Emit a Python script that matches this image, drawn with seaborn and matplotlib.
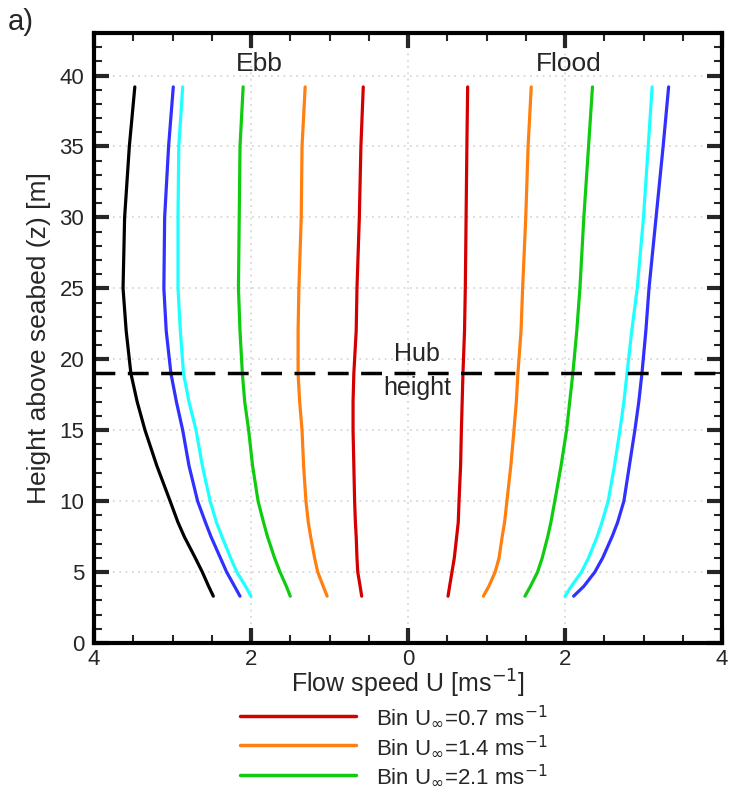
import numpy as np
import pandas as pd
import matplotlib
matplotlib.use("Agg")
import matplotlib.pyplot as plt
from matplotlib.ticker import MultipleLocator, FuncFormatter
from matplotlib.lines import Line2D
import seaborn as sns

# ---------------- data ----------------
z = [3.3, 4, 5, 6, 7.5, 8.5, 10, 12.5, 15, 17, 19, 22, 25, 30, 35, 39.2]

# Ebb profiles (speed magnitudes, plotted on the negative side)
ebb_07 = [0.59, 0.61, 0.64, 0.65, 0.66, 0.67, 0.68, 0.69, 0.70, 0.70, 0.69, 0.66, 0.65, 0.62, 0.60, 0.57]
ebb_14 = [1.03, 1.08, 1.15, 1.19, 1.24, 1.27, 1.30, 1.33, 1.35, 1.38, 1.40, 1.40, 1.39, 1.36, 1.35, 1.31]
ebb_21 = [1.50, 1.55, 1.63, 1.70, 1.79, 1.84, 1.91, 1.98, 2.03, 2.08, 2.11, 2.14, 2.16, 2.15, 2.14, 2.10]
ebb_28 = [2.00, 2.07, 2.18, 2.26, 2.37, 2.44, 2.52, 2.62, 2.70, 2.79, 2.86, 2.90, 2.93, 2.93, 2.92, 2.87]
ebb_35 = [2.14, 2.21, 2.31, 2.39, 2.51, 2.58, 2.68, 2.79, 2.87, 2.95, 3.02, 3.08, 3.11, 3.10, 3.05, 2.99]
ebb_42 = [2.48, 2.54, 2.62, 2.71, 2.85, 2.93, 3.03, 3.20, 3.35, 3.45, 3.53, 3.59, 3.63, 3.61, 3.55, 3.48]

# Flood profiles
flood_07 = [0.51, 0.53, 0.56, 0.59, 0.62, 0.64, 0.65, 0.67, 0.68, 0.69, 0.70, 0.72, 0.73, 0.74, 0.75, 0.76]
flood_14 = [0.96, 1.03, 1.11, 1.16, 1.20, 1.23, 1.26, 1.31, 1.35, 1.38, 1.40, 1.44, 1.46, 1.50, 1.53, 1.57]
flood_21 = [1.49, 1.56, 1.65, 1.71, 1.78, 1.82, 1.87, 1.95, 2.02, 2.06, 2.10, 2.15, 2.19, 2.24, 2.30, 2.35]
flood_28 = [2.00, 2.08, 2.21, 2.30, 2.41, 2.47, 2.55, 2.63, 2.70, 2.75, 2.79, 2.85, 2.92, 3.00, 3.06, 3.11]
flood_35 = [2.11, 2.24, 2.38, 2.48, 2.60, 2.67, 2.75, 2.82, 2.89, 2.94, 2.98, 3.03, 3.07, 3.16, 3.25, 3.32]

bin_labels = ["Bin U$_{\\infty}$=0.7 ms$^{-1}$",
              "Bin U$_{\\infty}$=1.4 ms$^{-1}$",
              "Bin U$_{\\infty}$=2.1 ms$^{-1}$"]
colors = ["#d40000", "#ff8010", "#10cc10", "#20ffff", "#3030ff", "#000000"]

hub_height = 19
xticks = [-4, -2, 0, 2, 4]
yticks = [0, 5, 10, 15, 20, 25, 30, 35, 40]

# ---------------- figure ----------------
sns.set_style("white")
plt.rcParams["font.family"] = ["Liberation Sans", "DejaVu Sans"]
plt.rcParams["mathtext.fontset"] = "dejavusans"

fig = plt.figure(figsize=(7.30, 8.06), dpi=100)
ax = fig.add_axes([94 / 730, 1 - 643 / 806, (722 - 94) / 730, (643 - 33) / 806])

ebb = [ebb_07, ebb_14, ebb_21, ebb_28, ebb_35, ebb_42]
flood = [flood_07, flood_14, flood_21, flood_28, flood_35]

lw = 2.3
for i, prof in enumerate(ebb):
    d = pd.DataFrame({"U": -np.asarray(prof), "z": z})
    sns.lineplot(data=d, x="U", y="z", sort=False, estimator=None,
                 color=colors[i], lw=lw, ax=ax)
for i, prof in enumerate(flood):
    d = pd.DataFrame({"U": np.asarray(prof), "z": z})
    sns.lineplot(data=d, x="U", y="z", sort=False, estimator=None,
                 color=colors[i], lw=lw, ax=ax)

ax.axhline(hub_height, color="black", lw=2.5, ls=(0, (6, 3.6)), zorder=5)

ax.set_xlim(-4, 4)
ax.set_ylim(0, 43)
ax.set_xticks(xticks)
ax.set_yticks(yticks)
ax.xaxis.set_minor_locator(MultipleLocator(0.5))
ax.yaxis.set_minor_locator(MultipleLocator(1))
ax.xaxis.set_major_formatter(FuncFormatter(lambda v, p: f"{abs(v):.0f}"))

ax.grid(True, which="major", color="#d8d8d8", lw=1.3, ls=(0, (1, 2.5)))
ax.set_axisbelow(True)

for s in ax.spines.values():
    s.set_linewidth(3)
    s.set_color("black")
ax.tick_params(which="both", direction="in", top=True, right=True,
               bottom=True, left=True)
ax.tick_params(which="major", length=11, width=3, labelsize=16)
ax.tick_params(axis="y", which="major", pad=7)
ax.tick_params(axis="x", which="major", pad=4)
ax.tick_params(which="minor", length=6, width=1.5)

ax.set_xlabel("Flow speed U [ms$^{-1}$]", fontsize=18, labelpad=-1)
ax.set_ylabel("Height above seabed (z) [m]", fontsize=19, labelpad=6)

ax.text(-1.9, 40.0, "Ebb", fontsize=19, ha="center", va="bottom")
ax.text(2.05, 40.0, "Flood", fontsize=19, ha="center", va="bottom")
ax.text(0.12, 20.4, "Hub", fontsize=18, ha="center", va="center")
ax.text(0.12, 18.0, "height", fontsize=18, ha="center", va="center")

fig.text(8 / 730, 1 - 22 / 806, "a)", fontsize=21, ha="left", va="center")

handles = [Line2D([], [], color=colors[i], lw=2.5) for i in range(3)]
fig.legend(handles, bin_labels, loc="upper left",
           bbox_to_anchor=(240 / 730, 1 - 704 / 806), frameon=False,
           fontsize=16, handlelength=5.2, handletextpad=0.9,
           labelspacing=0.2, borderpad=0, borderaxespad=0)

fig.savefig("out.png", dpi=100)
